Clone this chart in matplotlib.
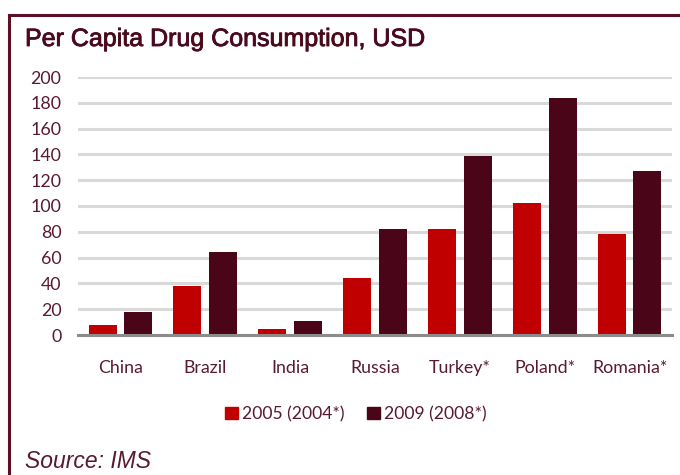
import matplotlib
matplotlib.use("Agg")
import matplotlib.pyplot as plt
from matplotlib.lines import Line2D
from matplotlib.patches import Patch
import matplotlib.patheffects as pe
import numpy as np

categories = ["China", "Brazil", "India", "Russia", "Turkey*", "Poland*", "Romania*"]
values_2005 = [8, 38, 5, 44.5, 82, 102.5, 78.5]
values_2009 = [18, 64, 10.5, 82, 139, 184, 127]
series_labels = ["2005 (2004*)", "2009 (2008*)"]
yticks = [0, 20, 40, 60, 80, 100, 120, 140, 160, 180, 200]

c2005 = "#C00000"
c2009 = "#4A0519"
text_c = "#5A1A2E"
frame_c = "#5C0F25"

fig = plt.figure(figsize=(6.8, 4.75), dpi=100)
ax = fig.add_axes([78/680, 140/475, 594/680, 258/475])

x = np.arange(len(categories))
w = 0.33
off = 0.21
ax.bar(x - off, values_2005, w, color=c2005, zorder=3, label=series_labels[0])
ax.bar(x + off, values_2009, w, color=c2009, zorder=3, label=series_labels[1])

ax.set_xlim(-0.5, len(categories) - 0.5)
ax.set_ylim(0, 200)
ax.set_yticks(yticks)
ax.set_xticks(x)
ax.set_xticklabels(categories)
ax.grid(axis="y", color="#D9D9D9", linewidth=2.2, zorder=0)
ax.set_axisbelow(True)
for s in ["top", "right", "left"]:
    ax.spines[s].set_visible(False)
ax.spines["bottom"].set_color("#8C8C8C")
ax.spines["bottom"].set_linewidth(2.2)
ax.spines["bottom"].set_zorder(4)
ax.tick_params(axis="both", length=0, colors=text_c, labelsize=12.8)
ax.tick_params(axis="y", pad=12)
ax.tick_params(axis="x", pad=18)
for lbl in ax.get_xticklabels() + ax.get_yticklabels():
    lbl.set_fontfamily("Lato")

handles = [Patch(color=c2005), Patch(color=c2009)]
leg = fig.legend(handles, series_labels, loc="center", bbox_to_anchor=(356/680, 1 - 414/475),
                 ncol=2, frameon=False, handlelength=0.7, handleheight=0.7,
                 handletextpad=0.25, columnspacing=1.3,
                 prop={"family": "Lato", "size": 12.6})
for t in leg.get_texts():
    t.set_color(text_c)

fig.text(25/680, 1 - 39/475, "Per Capita Drug Consumption, USD", fontsize=18,
         family="Liberation Sans", color="#4A0A1E", va="center", ha="left",
         path_effects=[pe.withStroke(linewidth=0.6, foreground="#4A0A1E")])
fig.text(25/680, 1 - 461/475, "Source: IMS", fontsize=16.5, style="italic",
         family="Liberation Sans", color=text_c, va="center", ha="left")

fig.add_artist(Line2D([9/680, 1.0], [1 - 15/475, 1 - 15/475], color=frame_c, linewidth=2.2,
                      transform=fig.transFigure))
fig.add_artist(Line2D([9/680, 9/680], [1 - 15/475, 0], color=frame_c, linewidth=2.2,
                      transform=fig.transFigure))

fig.savefig("out.png", dpi=100)
